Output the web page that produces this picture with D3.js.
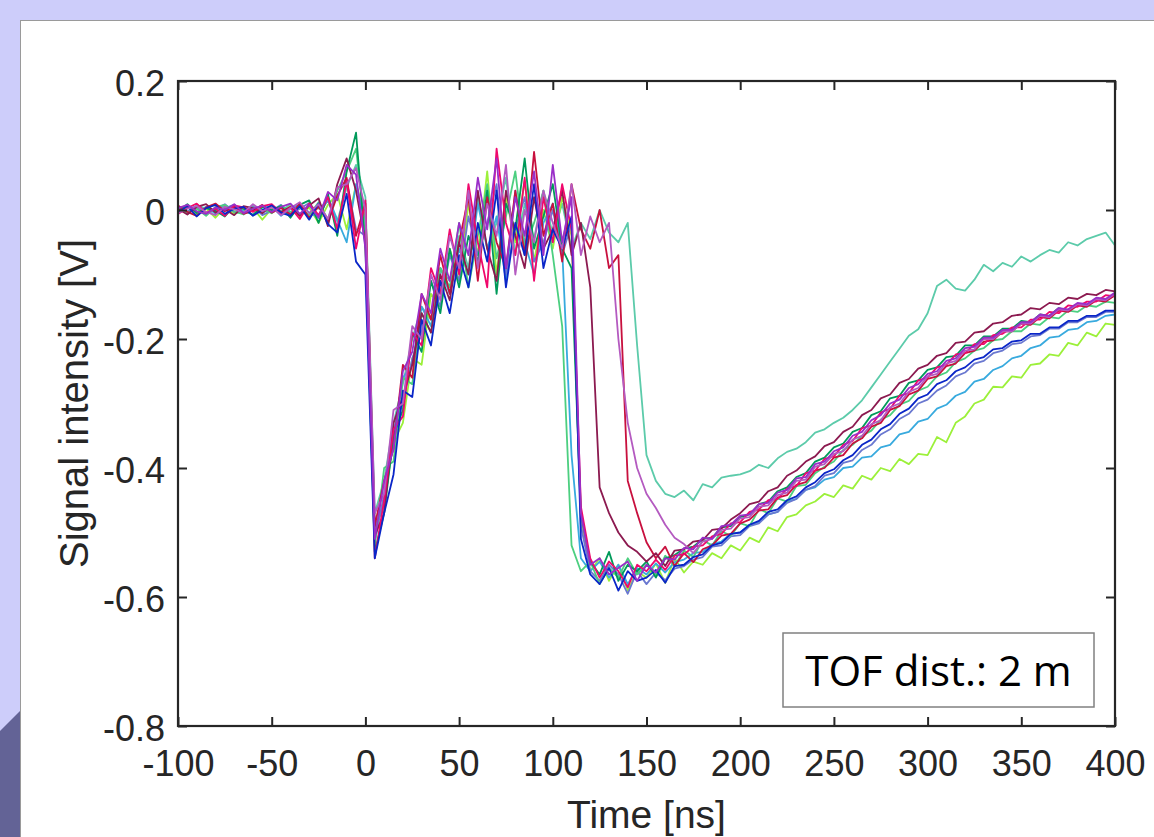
<!DOCTYPE html>
<html>
<head>
<meta charset="utf-8">
<script src="https://cdn.jsdelivr.net/npm/d3@7"></script>
<style>
  body { margin: 0; background: #cdcdfa; overflow: hidden; }
  .tick text { font-family: "Liberation Sans", Arial, sans-serif; fill: #262626; }
</style>
</head>
<body>
<div id="chart"></div>
<script>
// sample times of the scope traces [ns]
var timeNs = d3.range(-100, 401, 5);

// signal traces [mV], one per shot
var teal = [4,-6,8,2,-3,7,-5,1,6,-4, 3,-2,9,-7,5,2,14,-18,35,70, 20,-470,-420,-330,-270,-200,-150,-170,-90,-110, -40,-90,20,-60,-20,50,-70,10,-45,30, -40,10,-60,-20,-45,0,-35,-50,-20,-210, -380,-420,-440,-445,-435,-450,-425,-430,-415,-412, -410,-405,-395,-400,-385,-375,-370,-360,-345,-340, -330,-322,-310,-295,-275,-255,-235,-215,-195,-185, -160,-118,-108,-122,-125,-108,-85,-95,-82,-88, -72,-80,-70,-62,-66,-50,-55,-45,-40,-35, -55];
var lime = [-3,5,-8,2,-12,4,-6,0,3,-15, 2,-5,6,-10,4,-20,8,25,-30,40, -10,-500,-450,-360,-330,-230,-240,-130,-150,-60, -110,10,-70,60,-100,20,-50,45,-80,0, -60,20,-40,-480,-560,-540,-575,-550,-590,-560, -570,-548,-578,-540,-562,-545,-550,-532,-540,-520, -528,-508,-515,-492,-498,-476,-472,-458,-452,-440, -445,-427,-432,-412,-418,-400,-405,-386,-394,-378, -380,-352,-360,-330,-320,-300,-294,-274,-275,-258, -260,-240,-238,-224,-226,-206,-210,-190,-196,-176, -178];
var mint = [6,-4,2,-9,5,8,-2,-7,4,1, -5,7,-3,4,-8,12,-15,30,60,95, -30,-520,-400,-390,-260,-270,-160,-190,-90,-120, -20,-120,-40,40,-75,-10,60,-60,-20,30, -70,-180,-520,-560,-545,-580,-555,-570,-540,-565, -550,-566,-536,-552,-528,-538,-512,-520,-498,-505, -486,-490,-464,-470,-447,-452,-428,-426,-408,-398, -390,-372,-364,-350,-342,-325,-318,-302,-296,-280, -274,-258,-252,-236,-230,-218,-214,-202,-200,-188, -188,-176,-178,-166,-168,-156,-158,-148,-150,-142, -144];
var darkGreen = [-2,9,-5,3,-1,-10,6,2,-8,5, 0,6,-12,8,15,-20,25,-40,60,120, -60,-530,-470,-350,-310,-190,-220,-110,-160,-60, -120,-40,-80,30,-130,10,-30,80,-60,-10, 40,-60,-90,-470,-545,-565,-530,-575,-550,-560, -545,-570,-540,-535,-525,-522,-510,-508,-492,-490, -476,-472,-456,-452,-436,-430,-414,-408,-390,-384, -368,-362,-344,-338,-318,-312,-292,-288,-268,-264, -248,-244,-228,-226,-210,-210,-196,-196,-184,-184, -172,-174,-162,-164,-152,-156,-146,-148,-138,-140, -132];
var crimson = [7,-3,-9,4,10,-2,5,-6,-1,8, -4,3,-7,10,-12,5,-18,22,50,-40, 10,-490,-420,-370,-240,-260,-130,-170,-70,-130, -50,20,-110,20,-50,-90,30,-70,90,-40, 10,-80,40,-30,-60,0,-90,-70,-420,-470, -515,-540,-522,-552,-532,-546,-526,-520,-505,-502, -486,-480,-466,-464,-446,-442,-426,-422,-404,-400, -384,-380,-362,-354,-336,-330,-310,-304,-286,-280, -262,-258,-242,-238,-222,-218,-204,-202,-188,-188, -176,-178,-166,-168,-156,-158,-148,-150,-140,-142, -132];
var pink = [-6,3,10,-4,2,-9,7,4,-3,6, 9,-6,4,-14,10,-8,20,-30,45,-60, 15,-540,-450,-340,-320,-190,-210,-90,-130,-30, -100,40,-50,-120,95,-20,-70,50,-110,20, -50,40,-30,-460,-540,-570,-545,-560,-585,-550, -560,-542,-558,-536,-534,-522,-520,-506,-502,-486, -484,-468,-464,-450,-448,-432,-428,-408,-404,-386, -382,-364,-358,-338,-334,-314,-308,-288,-284,-264, -260,-244,-240,-224,-222,-208,-208,-194,-192,-182, -182,-170,-170,-158,-160,-148,-150,-142,-142,-132, -134];
var maroon = [2,-7,5,9,-4,1,-8,6,3,-5, 8,-3,5,-9,7,18,-25,40,80,30, -50,-505,-470,-330,-290,-240,-160,-190,-100,-140, -50,-100,30,-60,-110,30,-40,-90,20,-60, -30,30,-70,-20,-120,-430,-470,-500,-520,-530, -545,-532,-552,-528,-526,-514,-512,-496,-494,-480, -470,-456,-452,-436,-430,-412,-404,-390,-382,-366, -360,-344,-336,-318,-310,-292,-286,-268,-262,-246, -240,-226,-222,-206,-204,-190,-188,-176,-174,-164, -162,-152,-154,-144,-146,-136,-138,-130,-132,-124, -126];
var purple = [3,8,-2,-6,4,0,9,-5,2,7, -3,5,10,-6,8,-12,28,15,70,55, -60,-510,-420,-370,-250,-220,-130,-160,-60,-110, -20,-70,50,-30,80,-90,20,-40,60,-70, 70,-50,20,-470,-550,-540,-565,-555,-545,-575, -550,-562,-540,-542,-524,-526,-508,-510,-490,-488, -474,-472,-456,-454,-438,-434,-416,-414,-394,-390, -374,-368,-350,-344,-326,-318,-300,-294,-276,-270, -254,-250,-234,-230,-214,-212,-198,-198,-186,-186, -174,-174,-162,-164,-152,-154,-144,-146,-136,-138, -128];
var orchid = [-5,2,6,-3,-8,5,1,-4,9,-2, 4,-8,3,12,-5,9,-14,35,40,65, 0,-470,-440,-310,-300,-180,-200,-100,-140,-40, -90,30,-90,10,-40,70,-100,0,-50,30, -20,-60,40,-70,-10,-50,-20,-200,-330,-400, -440,-462,-488,-508,-518,-532,-514,-510,-496,-494, -478,-476,-460,-458,-442,-438,-420,-418,-398,-394, -378,-374,-356,-350,-332,-326,-306,-300,-282,-276, -258,-254,-238,-234,-218,-216,-200,-200,-188,-188, -176,-176,-164,-166,-154,-156,-146,-148,-138,-140, -130];
var blue = [-4,6,-10,3,8,-6,2,5,-9,0, 7,-4,-9,6,-15,10,-22,-35,25,-80, -100,-540,-470,-410,-280,-290,-170,-210,-110,-160, -70,-120,-20,-80,30,-120,-20,-70,40,-90, -30,-60,-10,-510,-565,-580,-555,-590,-560,-575, -570,-558,-578,-552,-550,-538,-534,-520,-516,-502, -500,-488,-482,-468,-464,-450,-444,-430,-422,-408, -402,-388,-380,-364,-356,-340,-332,-316,-308,-292, -286,-270,-264,-250,-244,-232,-228,-216,-214,-204, -202,-192,-192,-182,-182,-172,-172,-164,-164,-156, -156];
var slate = [5,-2,4,-7,1,9,-3,-5,6,-8, -1,8,-6,2,11,-9,16,-28,45,-30, -40,-515,-440,-340,-300,-230,-190,-110,-150,-70, -110,-10,-70,-20,40,-100,-30,20,-80,-50, 0,-70,-20,-490,-560,-575,-550,-565,-595,-560, -580,-562,-574,-556,-552,-542,-538,-522,-520,-506, -504,-490,-486,-472,-468,-454,-448,-434,-428,-412, -408,-392,-388,-372,-364,-348,-340,-324,-316,-300, -294,-280,-272,-258,-252,-238,-234,-222,-218,-208, -206,-196,-194,-184,-184,-174,-174,-166,-166,-158, -158];
var sky = [1,7,-4,5,-6,3,8,-2,-7,4, 6,-9,2,9,-4,-12,20,-15,-50,40, -20,-490,-460,-350,-260,-240,-150,-180,-90,-130, -60,-100,10,-60,-10,-110,30,-50,-100,-20, 10,-60,-380,-540,-560,-545,-570,-550,-580,-555, -565,-548,-562,-546,-542,-532,-530,-518,-514,-502, -500,-488,-484,-472,-468,-452,-448,-434,-430,-418, -414,-400,-398,-384,-382,-368,-364,-348,-344,-328, -324,-308,-302,-288,-282,-266,-262,-248,-242,-230, -226,-214,-210,-198,-196,-186,-184,-174,-172,-164, -162];

// drawing order: first ones end up underneath
var traces = [
    {name: "teal", color: "#5ccbaa", mV: teal},
    {name: "lime", color: "#9cf03a", mV: lime},
    {name: "sky", color: "#38aade", mV: sky},
    {name: "slate", color: "#6a78d0", mV: slate},
    {name: "mint", color: "#4ccf80", mV: mint},
    {name: "darkGreen", color: "#009a5a", mV: darkGreen},
    {name: "crimson", color: "#c8103e", mV: crimson},
    {name: "maroon", color: "#8c1a50", mV: maroon},
    {name: "pink", color: "#f0086c", mV: pink},
    {name: "blue", color: "#0a26c8", mV: blue},
    {name: "orchid", color: "#b45ac0", mV: orchid},
    {name: "purple", color: "#9a2ec8", mV: purple}
];

var xTicks = [-100, -50, 0, 50, 100, 150, 200, 250, 300, 350, 400];
var yTicks = [-0.8, -0.6, -0.4, -0.2, 0, 0.2];

var W = 1154, H = 837;
var plot = {left: 178, top: 81, right: 1115, bottom: 726};

var svg = d3.select("#chart").append("svg")
    .attr("width", W)
    .attr("height", H);

// slide background
svg.append("rect").attr("width", W).attr("height", H).attr("fill", "#cdcdfa");
svg.append("path")
    .attr("d", "M0,731 Q10,721 20,711 L20,837 L0,837 Z")
    .attr("fill", "#636396");
svg.append("rect")
    .attr("x", 20.5).attr("y", 20.5)
    .attr("width", 1200).attr("height", 900)
    .attr("fill", "#fff")
    .attr("stroke", "#9a9a9a");

/* Scale */
var xScale = d3.scaleLinear().domain([-100, 400]).range([plot.left, plot.right]);
var yScale = d3.scaleLinear().domain([-0.8, 0.2]).range([plot.bottom, plot.top]);

var line = d3.line()
    .x((d, i) => xScale(timeNs[i]))
    .y(d => yScale(d / 1000));

svg.append("g")
    .attr("class", "lines")
    .selectAll("path")
    .data(traces).enter()
    .append("path")
    .attr("d", d => line(d.mV))
    .attr("fill", "none")
    .attr("stroke", d => d.color)
    .attr("stroke-width", 1.8)
    .attr("stroke-linejoin", "round");

/* Axes, ticks pointing inward, plain hyphen for minus */
var tickLen = -9;
var plain = d => String(d);
svg.append("g")
    .attr("transform", `translate(0, ${plot.bottom})`)
    .call(d3.axisBottom(xScale).tickValues(xTicks).tickSize(tickLen).tickPadding(24).tickFormat(plain))
    .call(g => g.select(".domain").remove());
svg.append("g")
    .attr("transform", `translate(0, ${plot.top})`)
    .call(d3.axisTop(xScale).tickValues(xTicks).tickSize(tickLen).tickFormat(""))
    .call(g => g.select(".domain").remove());
var yAxisG = svg.append("g")
    .attr("transform", `translate(${plot.left}, 0)`)
    .call(d3.axisLeft(yScale).tickValues(yTicks).tickSize(tickLen).tickPadding(13).tickFormat(plain))
    .call(g => g.select(".domain").remove());
svg.append("g")
    .attr("transform", `translate(${plot.right}, 0)`)
    .call(d3.axisRight(yScale).tickValues(yTicks).tickSize(tickLen).tickFormat(""))
    .call(g => g.select(".domain").remove());

svg.selectAll(".tick line").attr("stroke", "#262626").attr("stroke-width", 2);
svg.selectAll(".tick text").style("font-size", "36px");
yAxisG.selectAll(".tick text").attr("dy", "0.4em");

// box round the plot
svg.append("rect")
    .attr("x", plot.left).attr("y", plot.top)
    .attr("width", plot.right - plot.left)
    .attr("height", plot.bottom - plot.top)
    .attr("fill", "none")
    .attr("stroke", "#262626")
    .attr("stroke-width", 2.2);

// axis labels
svg.append("text")
    .attr("x", (plot.left + plot.right) / 2)
    .attr("y", 828)
    .attr("text-anchor", "middle")
    .style("font-family", "'Liberation Sans', Arial, sans-serif")
    .style("font-size", "39px")
    .attr("fill", "#262626")
    .text("Time [ns]");

svg.append("text")
    .attr("transform", `translate(88, ${(plot.top + plot.bottom) / 2}) rotate(-90)`)
    .attr("text-anchor", "middle")
    .style("font-family", "'Liberation Sans', Arial, sans-serif")
    .style("font-size", "40px")
    .attr("fill", "#262626")
    .text("Signal intensity [V]");

// annotation box
svg.append("rect")
    .attr("x", 783).attr("y", 633)
    .attr("width", 311).attr("height", 74)
    .attr("fill", "#fff")
    .attr("stroke", "#808080")
    .attr("stroke-width", 1.5);
svg.append("text")
    .attr("x", 938.5).attr("y", 686)
    .attr("text-anchor", "middle")
    .style("font-family", "'Open Sans', sans-serif")
    .style("font-size", "42px")
    .attr("fill", "#000")
    .text("TOF dist.: 2 m");
</script>
</body>
</html>
